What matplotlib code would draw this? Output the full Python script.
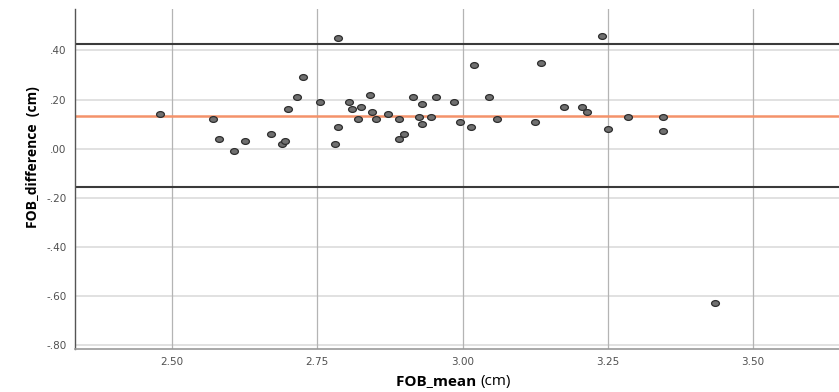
import numpy as np
import matplotlib
matplotlib.use("Agg")
import matplotlib.pyplot as plt
from matplotlib.path import Path
from matplotlib.transforms import Affine2D

# mean of the two FOB measurements and their difference, per subject (cm)
fob_mean = [2.480, 2.570, 2.580, 2.606, 2.625, 2.670, 2.690, 2.695, 2.700, 2.715,
            2.725, 2.755, 2.786, 2.786, 2.780, 2.805, 2.810, 2.820, 2.825, 2.840,
            2.845, 2.851, 2.871, 2.890, 2.890, 2.900, 2.915, 2.930, 2.925, 2.930,
            2.945, 2.955, 2.985, 2.995, 3.015, 3.020, 3.045, 3.060, 3.125, 3.135,
            3.175, 3.205, 3.215, 3.240, 3.250, 3.285, 3.345, 3.345, 3.435]
fob_diff = [0.14, 0.12, 0.04, -0.01, 0.03, 0.06, 0.02, 0.03, 0.16, 0.21,
            0.29, 0.19, 0.45, 0.09, 0.02, 0.19, 0.16, 0.12, 0.17, 0.22,
            0.15, 0.12, 0.14, 0.12, 0.04, 0.06, 0.21, 0.18, 0.13, 0.10,
            0.13, 0.21, 0.19, 0.11, 0.09, 0.34, 0.21, 0.12, 0.11, 0.35,
            0.17, 0.17, 0.15, 0.46, 0.08, 0.13, 0.13, 0.07, -0.63]

x_ticks = [2.50, 2.75, 3.00, 3.25, 3.50]
y_ticks = [0.40, 0.20, 0.00, -0.20, -0.40, -0.60, -0.80]

# bias and 95% limits of agreement
d = np.array(fob_diff)
bias = d.mean()
sd = d.std(ddof=1)
upper = bias + 1.96 * sd
lower = bias - 1.96 * sd


def spss_fmt(v):
    s = "%.2f" % v
    return s.replace("0.", ".")


fig = plt.figure(figsize=(8.39, 3.92), dpi=100)
ax = fig.add_axes([75 / 839, 1 - 349 / 392, 1 - 75 / 839, 340 / 392])

ax.set_xlim(2.333, 3.648)
ax.set_ylim(-0.817, 0.569)

for yt in y_ticks:
    ax.axhline(yt, color="#dcdcdc", lw=1.2, zorder=0)
for xt in x_ticks:
    ax.axvline(xt, color="#b4b4b4", lw=0.9, zorder=0)

ax.axhline(upper, color="#3a3a3a", lw=1.5, zorder=1)
ax.axhline(lower, color="#3a3a3a", lw=1.5, zorder=1)
ax.axhline(bias, color="#f4926a", lw=1.8, zorder=1)

# slightly flattened round marker
ell = Path.unit_circle().transformed(Affine2D().scale(1.35, 1.0))
ax.scatter(fob_mean, fob_diff, marker=ell, s=32, facecolor="#707070",
           edgecolor="#2e2e2e", linewidth=0.9, zorder=3)

ax.set_xticks(x_ticks)
ax.set_xticklabels(["%.2f" % v for v in x_ticks])
ax.set_yticks(y_ticks)
ax.set_yticklabels([spss_fmt(v) for v in y_ticks])
ax.tick_params(length=0, labelsize=7.5, labelcolor="#505050", pad=6)
for lab in ax.get_xticklabels() + ax.get_yticklabels():
    lab.set_family("DejaVu Sans")

ax.spines["top"].set_visible(False)
ax.spines["right"].set_visible(False)
ax.spines["left"].set_color("#555555")
ax.spines["bottom"].set_color("#999999")
ax.spines["left"].set_linewidth(1.0)
ax.spines["bottom"].set_linewidth(1.2)

fig.text(480 / 839, 1 - 381 / 392, "FOB_mean ", ha="right", va="center",
         fontsize=11, fontweight="bold", family="Open Sans")
fig.text(480 / 839, 1 - 381 / 392, "(cm)", ha="left", va="center",
         fontsize=11, family="Open Sans")
fig.text(33 / 839, 1 - 157 / 392, "FOB_difference  (cm)", ha="center", va="center",
         rotation=90, fontsize=10, fontweight="bold", family="Open Sans")

fig.savefig("out.png", dpi=100)
